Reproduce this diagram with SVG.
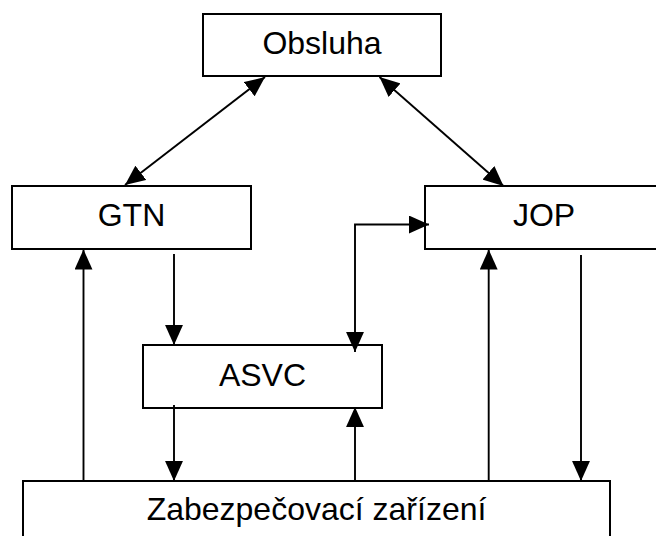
<svg xmlns="http://www.w3.org/2000/svg" width="656" height="536" viewBox="0 0 656 536">
  <style>
    .box { fill: #ffffff; stroke: #000000; stroke-width: 2; }
    .label { font-family: "Liberation Sans", Arial, sans-serif; font-size: 32px; fill: #000000; text-anchor: middle; }
    .link { fill: none; stroke: #000000; stroke-width: 1.9; }
  </style>
  <defs>
    <marker id="head" markerUnits="userSpaceOnUse" markerWidth="20" markerHeight="18" viewBox="0 0 19 17" refX="19" refY="8.5" orient="auto-start-reverse">
      <path d="M0,0 L19,8.5 L0,17 Z" fill="#000000"/>
    </marker>
  </defs>

  <rect width="656" height="536" fill="#ffffff"/>

  <g id="obsluha">
    <rect class="box" x="203" y="14" width="238" height="62"/>
    <text class="label" x="322" y="54">Obsluha</text>
  </g>

  <g id="gtn">
    <rect class="box" x="12" y="186" width="239" height="63"/>
    <text class="label" x="131.5" y="226">GTN</text>
  </g>

  <g id="jop">
    <rect class="box" x="425" y="186" width="239" height="63"/>
    <text class="label" x="544" y="226">JOP</text>
  </g>

  <g id="asvc">
    <rect class="box" x="143" y="345" width="239" height="63"/>
    <text class="label" x="262.5" y="386">ASVC</text>
  </g>

  <g id="zabezpecovaci-zarizeni">
    <rect class="box" x="23" y="481" width="587" height="70"/>
    <text class="label" x="316.5" y="520">Zabezpečovací zařízení</text>
  </g>

  <g id="connectors">
    <!-- operator <-> GTN / JOP -->
    <path class="link" d="M265,77 L125,185" marker-start="url(#head)" marker-end="url(#head)"/>
    <path class="link" d="M379.5,77 L503.5,186" marker-start="url(#head)" marker-end="url(#head)"/>
    <!-- GTN -> ASVC -> interlocking -->
    <path class="link" d="M174,254 V345" marker-end="url(#head)"/>
    <path class="link" d="M174,405 V481" marker-end="url(#head)"/>
    <!-- interlocking -> GTN -->
    <path class="link" d="M83.5,481 V249.5" marker-end="url(#head)"/>
    <!-- ASVC <-> JOP -->
    <path class="link" d="M355,352 V224.5 H429" marker-start="url(#head)" marker-end="url(#head)"/>
    <!-- interlocking -> ASVC -->
    <path class="link" d="M355,481 V407" marker-end="url(#head)"/>
    <!-- interlocking <-> JOP -->
    <path class="link" d="M488.7,481 V249.5" marker-end="url(#head)"/>
    <path class="link" d="M581,255 V481" marker-end="url(#head)"/>
  </g>
</svg>
